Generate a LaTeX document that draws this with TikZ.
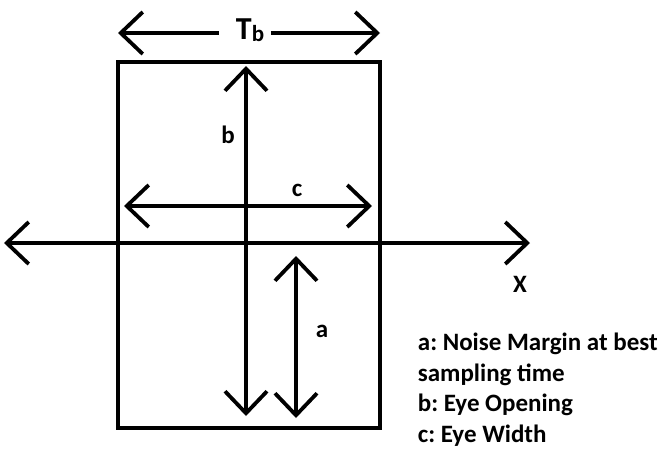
\documentclass[tikz,border=0pt]{standalone}
\usepackage{fontspec}
\setmainfont{Carlito}
\usetikzlibrary{arrows.meta}
\begin{document}
\frenchspacing
\begin{tikzpicture}[x=1pt,y=-1pt,line width=3.8pt,
	barb/.tip={Straight Barb[length=22pt,width=42pt,line width=3.8pt]},
	lbl/.style={font=\bfseries\fontsize{25}{27}\selectfont,inner sep=0pt}]
	\useasboundingbox(0,0)rectangle(665,453);
	\node(eye)[draw,minimum width=262pt,minimum height=366pt,inner sep=0pt]at(249,245){};
	\node(tb)[lbl,font=\bfseries\fontsize{32}{34}\selectfont]at(250,30){T\raisebox{-2pt}{\fontsize{23}{23}\selectfont b}};
	\coordinate(tbl)at(118,33);
	\coordinate(tbr)at(380,33);
	\coordinate(bt)at(246,66);
	\coordinate(bb)at(246,416);
	\coordinate(cl)at(124,206);
	\coordinate(cr)at(372,206);
	\coordinate(xl)at(4,243);
	\coordinate(xr)at(530,243);
	\coordinate(at)at(296,256);
	\coordinate(ab)at(296,418);
	\node(b)[lbl]at(228,135){b};
	\node(c)[lbl]at(297,190){c};
	\node(x)[lbl]at(520,284){X};
	\node(a)[lbl]at(322,331){a};
	\node(key)[lbl,anchor=north west,align=left,font=\bfseries\fontsize{25}{30.7}\selectfont]at(416,331)
		{a: Noise Margin at best\\sampling time\\b: Eye Opening\\c: Eye Width};
	\draw[{barb}-](tbl)--([xshift=-15pt]tb.west|-tbl);
	\draw[-{barb}]([xshift=5pt]tb.east|-tbr)--(tbr);
	\draw[{barb}-{barb}](bt)--(bb);
	\draw[{barb}-{barb}](cl)--(cr);
	\draw[{barb}-{barb}](xl)--(xr);
	\draw[{barb}-{barb}](at)--(ab);
\end{tikzpicture}
\end{document}
